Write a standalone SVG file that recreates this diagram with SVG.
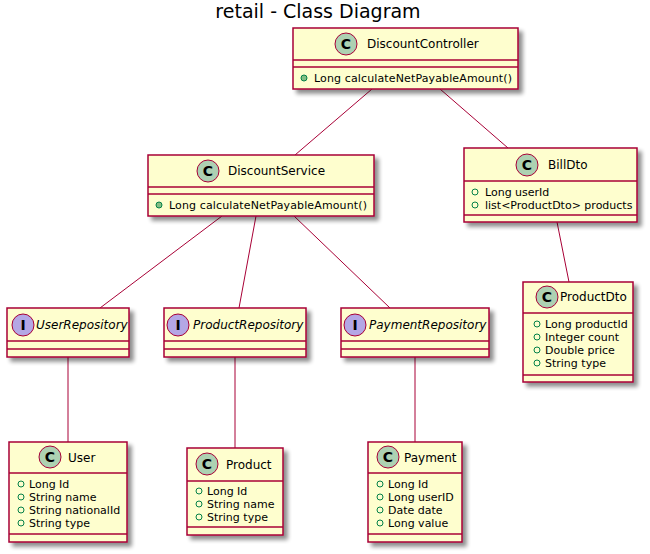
<svg xmlns="http://www.w3.org/2000/svg" width="650" height="554" viewBox="0 0 650 554">
<defs>
<filter id="sh" x="-10%" y="-10%" width="130%" height="140%">
<feGaussianBlur in="SourceAlpha" stdDeviation="2"/>
<feOffset dx="4" dy="4" result="b"/>
<feComponentTransfer><feFuncA type="linear" slope="0.45"/></feComponentTransfer>
<feMerge><feMergeNode/><feMergeNode in="SourceGraphic"/></feMerge>
</filter>
</defs>
<style>
.box{fill:#FEFECE;stroke:#A80036;stroke-width:1.5;filter:url(#sh)}
.sep{stroke:#A80036;stroke-width:1.5}
.cc{fill:#ADD1B2;stroke:#A80036;stroke-width:1}
.ci{fill:#B4A7E5;stroke:#A80036;stroke-width:1}
.cl{font-family:"DejaVu Sans",sans-serif;font-size:14px;font-weight:bold;fill:#000;text-anchor:middle}
.nm{font-family:"DejaVu Sans",sans-serif;font-size:12px;fill:#000}
.it{font-family:"DejaVu Sans",sans-serif;font-size:12px;font-style:italic;fill:#000}
.at{font-family:"DejaVu Sans",sans-serif;font-size:11px;fill:#000}
.pub{fill:none;stroke:#038048;stroke-width:1}
.pubf{fill:#84BE84;stroke:#038048;stroke-width:1}
.ln{stroke:#A80036;stroke-width:1;fill:none}
.title{font-family:"DejaVu Sans",sans-serif;font-size:19px;fill:#000;text-anchor:middle}
</style>
<text class="title" x="318" y="18">retail - Class Diagram</text>
<g id="connectors">
<line class="ln" x1="372" y1="89" x2="295" y2="155"/>
<line class="ln" x1="440" y1="89" x2="508" y2="148"/>
<line class="ln" x1="222" y1="216" x2="100" y2="308"/>
<line class="ln" x1="256" y1="216" x2="239" y2="308"/>
<line class="ln" x1="294" y1="216" x2="390" y2="308"/>
<line class="ln" x1="557" y1="222" x2="569" y2="282"/>
<line class="ln" x1="68" y1="357" x2="68" y2="442"/>
<line class="ln" x1="235" y1="357" x2="235" y2="448"/>
<line class="ln" x1="415" y1="357" x2="415" y2="442"/>
</g>
<g id="DiscountController">
<rect class="box" x="293" y="28" width="225" height="61"/>
<line class="sep" x1="293" y1="60" x2="518" y2="60"/>
<line class="sep" x1="293" y1="67" x2="518" y2="67"/>
<circle class="cc" cx="346" cy="44" r="11"/>
<text class="cl" x="346" y="49">C</text>
<text class="nm" x="367" y="48">DiscountController</text>
<circle class="pubf" cx="304" cy="78" r="3"/>
<text class="at" x="314" y="82" textLength="198">Long calculateNetPayableAmount()</text>
</g>
<g id="DiscountService">
<rect class="box" x="148" y="155" width="226" height="61"/>
<line class="sep" x1="148" y1="187" x2="374" y2="187"/>
<line class="sep" x1="148" y1="194" x2="374" y2="194"/>
<circle class="cc" cx="208" cy="171" r="11"/>
<text class="cl" x="208" y="176">C</text>
<text class="nm" x="228" y="175">DiscountService</text>
<circle class="pubf" cx="159" cy="205" r="3"/>
<text class="at" x="169" y="209" textLength="198">Long calculateNetPayableAmount()</text>
</g>
<g id="BillDto">
<rect class="box" x="464" y="148" width="173" height="74"/>
<line class="sep" x1="464" y1="181" x2="637" y2="181"/>
<line class="sep" x1="464" y1="215" x2="637" y2="215"/>
<circle class="cc" cx="527" cy="165" r="11"/>
<text class="cl" x="527" y="170">C</text>
<text class="nm" x="548" y="169">BillDto</text>
<circle class="pub" cx="475" cy="192" r="3"/>
<text class="at" x="485" y="196">Long userId</text>
<circle class="pub" cx="475" cy="205" r="3"/>
<text class="at" x="485" y="209">list&lt;ProductDto&gt; products</text>
</g>
<g id="UserRepository">
<rect class="box" x="7" y="308" width="122" height="49"/>
<line class="sep" x1="7" y1="341" x2="129" y2="341"/>
<line class="sep" x1="7" y1="349" x2="129" y2="349"/>
<circle class="ci" cx="23" cy="325" r="11"/>
<text class="cl" x="23" y="330">I</text>
<text class="it" x="36" y="329">UserRepository</text>
</g>
<g id="ProductRepository">
<rect class="box" x="164" y="308" width="142" height="49"/>
<line class="sep" x1="164" y1="341" x2="306" y2="341"/>
<line class="sep" x1="164" y1="349" x2="306" y2="349"/>
<circle class="ci" cx="178" cy="325" r="11"/>
<text class="cl" x="178" y="330">I</text>
<text class="it" x="193" y="329">ProductRepository</text>
</g>
<g id="PaymentRepository">
<rect class="box" x="341" y="308" width="148" height="49"/>
<line class="sep" x1="341" y1="341" x2="489" y2="341"/>
<line class="sep" x1="341" y1="349" x2="489" y2="349"/>
<circle class="ci" cx="355" cy="325" r="11"/>
<text class="cl" x="355" y="330">I</text>
<text class="it" x="369" y="329">PaymentRepository</text>
</g>
<g id="ProductDto">
<rect class="box" x="523" y="282" width="110" height="100"/>
<line class="sep" x1="523" y1="313" x2="633" y2="313"/>
<line class="sep" x1="523" y1="375" x2="633" y2="375"/>
<circle class="cc" cx="547" cy="297" r="11"/>
<text class="cl" x="547" y="302">C</text>
<text class="nm" x="560" y="301">ProductDto</text>
<circle class="pub" cx="537" cy="324" r="3"/>
<text class="at" x="545" y="328">Long productId</text>
<circle class="pub" cx="537" cy="337" r="3"/>
<text class="at" x="545" y="341">Integer count</text>
<circle class="pub" cx="537" cy="350" r="3"/>
<text class="at" x="545" y="354">Double price</text>
<circle class="pub" cx="537" cy="363" r="3"/>
<text class="at" x="545" y="367">String type</text>
</g>
<g id="User">
<rect class="box" x="9" y="442" width="118" height="100"/>
<line class="sep" x1="9" y1="473" x2="127" y2="473"/>
<line class="sep" x1="9" y1="534" x2="127" y2="534"/>
<circle class="cc" cx="50" cy="457" r="11"/>
<text class="cl" x="50" y="462">C</text>
<text class="nm" x="68" y="462">User</text>
<circle class="pub" cx="21" cy="484" r="3"/>
<text class="at" x="29" y="488">Long Id</text>
<circle class="pub" cx="21" cy="497" r="3"/>
<text class="at" x="29" y="501">String name</text>
<circle class="pub" cx="21" cy="510" r="3"/>
<text class="at" x="29" y="514">String nationalId</text>
<circle class="pub" cx="21" cy="523" r="3"/>
<text class="at" x="29" y="527">String type</text>
</g>
<g id="Product">
<rect class="box" x="187" y="448" width="96" height="87"/>
<line class="sep" x1="187" y1="481" x2="283" y2="481"/>
<line class="sep" x1="187" y1="527" x2="283" y2="527"/>
<circle class="cc" cx="207" cy="464" r="11"/>
<text class="cl" x="207" y="469">C</text>
<text class="nm" x="226" y="469">Product</text>
<circle class="pub" cx="199" cy="491" r="3"/>
<text class="at" x="207" y="495">Long Id</text>
<circle class="pub" cx="199" cy="504" r="3"/>
<text class="at" x="207" y="508">String name</text>
<circle class="pub" cx="199" cy="517" r="3"/>
<text class="at" x="207" y="521">String type</text>
</g>
<g id="Payment">
<rect class="box" x="368" y="442" width="94" height="100"/>
<line class="sep" x1="368" y1="473" x2="462" y2="473"/>
<line class="sep" x1="368" y1="534" x2="462" y2="534"/>
<circle class="cc" cx="388" cy="457" r="11"/>
<text class="cl" x="388" y="462">C</text>
<text class="nm" x="404" y="462">Payment</text>
<circle class="pub" cx="380" cy="484" r="3"/>
<text class="at" x="388" y="488">Long Id</text>
<circle class="pub" cx="380" cy="497" r="3"/>
<text class="at" x="388" y="501">Long userID</text>
<circle class="pub" cx="380" cy="510" r="3"/>
<text class="at" x="388" y="514">Date date</text>
<circle class="pub" cx="380" cy="523" r="3"/>
<text class="at" x="388" y="527">Long value</text>
</g>
</svg>
